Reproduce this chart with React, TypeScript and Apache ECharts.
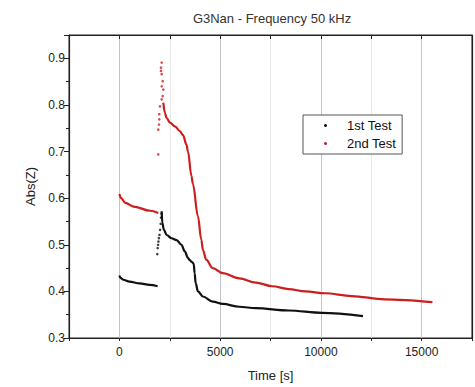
import React, { useEffect, useRef } from "react";
import * as echarts from "echarts";

// ---- data ----
const titleText = "G3Nan - Frequency 50 kHz";
const seriesNames = ["1st Test", "2nd Test"];
const xTickLabels = ["0", "5000", "10000", "15000"];
const yTickLabels = ["0.3", "0.4", "0.5", "0.6", "0.7", "0.8", "0.9"];

// 1st test
const t1CurveA: [number, number][] = [
  [0, 0.434], [50, 0.429], [200, 0.425], [500, 0.421], [1000, 0.417], [1500, 0.414], [1900, 0.411],
];
const t1Jump: [number, number][] = [
  [1880, 0.48], [1900, 0.493], [1920, 0.5], [1940, 0.507], [1960, 0.514], [1990, 0.521],
  [2020, 0.532], [2050, 0.545], [2070, 0.558], [2090, 0.567],
];
const t1CurveB: [number, number][] = [
  [2100, 0.572], [2130, 0.547], [2210, 0.532], [2345, 0.521], [2590, 0.514], [2840, 0.51],
  [3080, 0.5], [3245, 0.486], [3405, 0.472], [3490, 0.467], [3600, 0.463], [3690, 0.459],
  [3735, 0.439], [3785, 0.418], [3900, 0.4], [4145, 0.389], [4635, 0.378], [5130, 0.373],
  [5950, 0.367], [6770, 0.364], [8405, 0.359], [10045, 0.354], [12090, 0.347],
];

// 2nd test
const t2CurveA: [number, number][] = [
  [0, 0.609], [85, 0.6], [295, 0.59], [700, 0.582], [1525, 0.573], [1930, 0.568],
];
const t2Jump: [number, number][] = [
  [1930, 0.694], [1930, 0.747], [1965, 0.758], [1980, 0.769], [1980, 0.78], [2015, 0.797],
  [2100, 0.812], [2150, 0.819], [2180, 0.833], [2100, 0.84], [2150, 0.851], [2100, 0.866],
  [2065, 0.873], [2065, 0.88], [2100, 0.891],
];
const t2CurveB: [number, number][] = [
  [2180, 0.805], [2260, 0.783], [2345, 0.772], [2510, 0.762], [2755, 0.754], [3000, 0.744],
  [3160, 0.735], [3330, 0.715], [3405, 0.7], [3575, 0.648], [3650, 0.63], [3900, 0.561],
  [4065, 0.511], [4145, 0.489], [4310, 0.468], [4635, 0.45], [5130, 0.439], [5950, 0.428],
  [6770, 0.419], [7585, 0.411], [8405, 0.405], [9225, 0.4], [10210, 0.396], [11520, 0.39],
  [13160, 0.383], [15535, 0.377],
];

const colors = ["#111111", "#cc1e1e"];
const FONT = "Liberation Sans, Arial, sans-serif";

export default function App() {
  const ref = useRef<HTMLDivElement>(null);
  useEffect(() => {
    if (!ref.current) return;
    const chart = echarts.init(ref.current, undefined, { renderer: "svg" });
    const lineSeries = (name: string, data: [number, number][], color: string) => ({
      name,
      type: "line",
      data,
      showSymbol: false,
      symbol: "circle",
      smooth: 0.35,
      smoothMonotone: "x",
      lineStyle: { color, width: 2.2 },
      itemStyle: { color },
      xAxisIndex: 0,
      yAxisIndex: 0,
      z: 3,
    });
    const scatterSeries = (name: string, data: [number, number][], color: string) => ({
      name,
      type: "scatter",
      data,
      symbol: "circle",
      symbolSize: 2.6,
      itemStyle: { color },
      xAxisIndex: 0,
      yAxisIndex: 0,
      z: 4,
    });
    chart.setOption({
      animation: false,
      textStyle: { fontFamily: FONT },
      title: {
        text: titleText,
        left: 267,
        textAlign: "center",
        top: 7,
        textStyle: { fontFamily: FONT, fontSize: 13, fontWeight: "normal", color: "#333" },
      },
      legend: {
        data: seriesNames.map((n) => ({ name: n, icon: "circle" })),
        orient: "vertical",
        left: 303,
        top: 115,
        itemWidth: 3,
        itemHeight: 3,
        itemGap: 5,
        padding: [4, 6, 4, 21],
        borderColor: "#555",
        borderWidth: 1,
        backgroundColor: "#fff",
        textStyle: { fontFamily: FONT, fontSize: 13, color: "#111", lineHeight: 13, padding: [0, 0, 0, 15] },
      },
      grid: {
        left: 69,
        top: 35,
        right: 1,
        bottom: 49,
        show: true,
        borderColor: "#222",
        borderWidth: 1,
      },
      xAxis: [
        {
          type: "value",
          min: -2500,
          max: 17500,
          interval: 2500,
          name: "Time [s]",
          nameLocation: "middle",
          nameGap: 31,
          nameTextStyle: { fontFamily: FONT, fontSize: 13, color: "#222" },
          axisLine: { show: true, onZero: false, lineStyle: { color: "#222", width: 1.2 } },
          axisTick: { show: true, length: 3, lineStyle: { color: "#222" } },
          axisLabel: {
            margin: 8,
            fontSize: 12,
            color: "#222",
            fontFamily: FONT,
            formatter: (v: number) => {
              const s = String(Math.round(v));
              return xTickLabels.includes(s) ? s : "";
            },
          },
          splitLine: { show: true, lineStyle: { color: ["#e8e8e8", "#c4c4c4"], width: 1 } },
        },
        {
          type: "value",
          position: "top",
          min: -2500,
          max: 17500,
          interval: 2500,
          axisLine: { show: true, onZero: false, lineStyle: { color: "#222", width: 1.2 } },
          axisTick: { show: true, inside: true, length: 4, lineStyle: { color: "#222" } },
          axisLabel: { show: false },
          splitLine: { show: false },
        },
      ],
      yAxis: [
        {
          type: "value",
          min: 0.3,
          max: 0.95,
          interval: 0.1,
          name: "Abs(Z)",
          nameLocation: "middle",
          nameGap: 26,
          nameTextStyle: { fontFamily: FONT, fontSize: 13, color: "#222" },
          axisLine: { show: true, onZero: false, lineStyle: { color: "#222", width: 1.2 } },
          axisTick: { show: true, length: 5, lineStyle: { color: "#222" } },
          minorTick: { show: true, splitNumber: 2, length: 3, lineStyle: { color: "#222" } },
          axisLabel: {
            margin: 4,
            fontSize: 12,
            color: "#222",
            fontFamily: FONT,
            showMaxLabel: false,
            formatter: (v: number) => {
              const s = (Math.round(v * 10) / 10).toFixed(1);
              return yTickLabels.includes(s) && Math.abs(v - parseFloat(s)) < 1e-6 ? s : "";
            },
          },
          splitLine: { show: false },
        },
        {
          type: "value",
          position: "right",
          min: 0.3,
          max: 0.95,
          interval: 0.1,
          axisLine: { show: true, onZero: false, lineStyle: { color: "#222", width: 1.2 } },
          axisTick: { show: false },
          axisLabel: { show: false },
          splitLine: { show: false },
        },
      ],
      series: [
        lineSeries(seriesNames[0], t1CurveA, colors[0]),
        scatterSeries(seriesNames[0], t1Jump, colors[0]),
        lineSeries(seriesNames[0], t1CurveB, colors[0]),
        lineSeries(seriesNames[1], t2CurveA, colors[1]),
        scatterSeries(seriesNames[1], t2Jump, colors[1]),
        lineSeries(seriesNames[1], t2CurveB, colors[1]),
      ],
    });
    return () => chart.dispose();
  }, []);
  return (
    <div
      ref={ref}
      style={{ position: "fixed", left: 0, top: 0, width: 475, height: 387, background: "#fff" }}
    />
  );
}
